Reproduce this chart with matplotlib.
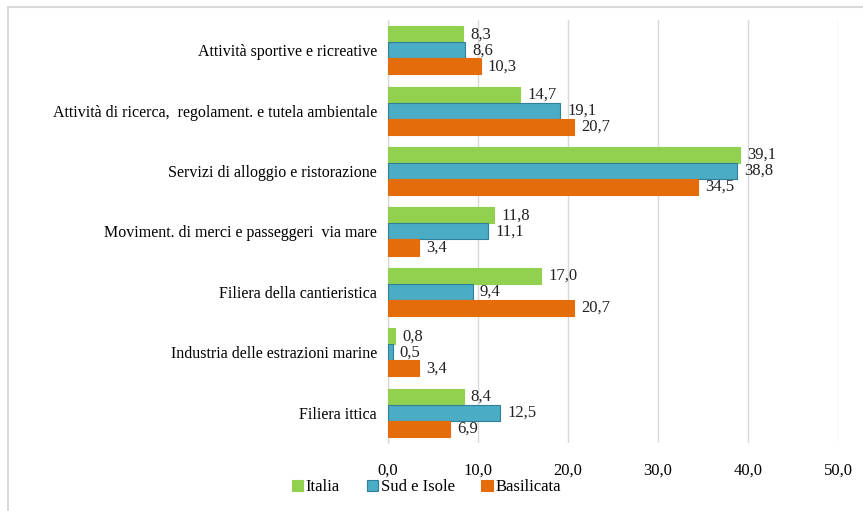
import matplotlib.pyplot as plt
import numpy as np
from matplotlib.patches import Rectangle

plt.rcParams['font.family'] = ['Liberation Serif', 'DejaVu Serif']

categories = ['Attività sportive e ricreative',
              'Attività di ricerca,  regolament. e tutela ambientale',
              'Servizi di alloggio e ristorazione',
              'Moviment. di merci e passeggeri  via mare',
              'Filiera della cantieristica',
              'Industria delle estrazioni marine',
              'Filiera ittica']
italia = [8.3, 14.7, 39.1, 11.8, 17.0, 0.8, 8.4]
sud = [8.6, 19.1, 38.8, 11.1, 9.4, 0.5, 12.5]
basilicata = [10.3, 20.7, 34.5, 3.4, 20.7, 3.4, 6.9]
series_names = ['Italia', 'Sud e Isole', 'Basilicata']
xticks = [0, 10, 20, 30, 40, 50]

fig = plt.figure(figsize=(8.63, 5.11), dpi=100)
ax = fig.add_axes([0.4496, 0.1331, 0.5214, 0.8278])

# border of the chart area (only left/top visible in the crop)
fig.patches.append(Rectangle((8 / 863, -0.5), 1.5, 1.5 - 7 / 511, transform=fig.transFigure,
                             fill=False, edgecolor='#d9d9d9', linewidth=1.5))

y = np.arange(len(categories))
h = 0.265
colors = ['#92D050', '#4BACC6', '#E46C0A']
edges = ['#92D050', '#2F7F9A', '#E46C0A']
for i, (vals, name) in enumerate(zip([italia, sud, basilicata], series_names)):
    pos = y + (i - 1) * h
    ax.barh(pos, vals, height=h, color=colors[i], edgecolor=edges[i],
            linewidth=0.8, label=name, zorder=3)
    for p, v in zip(pos, vals):
        ax.text(v + 0.8, p, f'{v:.1f}'.replace('.', ','), va='center', ha='left',
                fontsize=12, color='#222222', zorder=4)

ax.set_ylim(len(categories) - 0.5, -0.5)
ax.set_xlim(0, 50)
ax.set_xticks(xticks)
ax.set_xticklabels([f'{t:.1f}'.replace('.', ',') for t in xticks], fontsize=12)
ax.set_yticks(y)
ax.set_yticklabels(categories, fontsize=11.5)
ax.tick_params(axis='both', length=0, pad=8)
ax.tick_params(axis='x', pad=14)
ax.grid(axis='x', color='#d9d9d9', linewidth=1, zorder=0)
for s in ['top', 'right', 'bottom']:
    ax.spines[s].set_visible(False)
ax.spines['left'].set_color('#d9d9d9')
ax.spines['left'].set_linewidth(1)

handles, labels = ax.get_legend_handles_labels()
fig.legend(handles, labels, loc='center', bbox_to_anchor=(0.494, 0.046), ncol=3,
           frameon=False, fontsize=12, handlelength=0.7, handleheight=0.7,
           handletextpad=0.15, columnspacing=1.6)

fig.savefig('out.png', dpi=100)
